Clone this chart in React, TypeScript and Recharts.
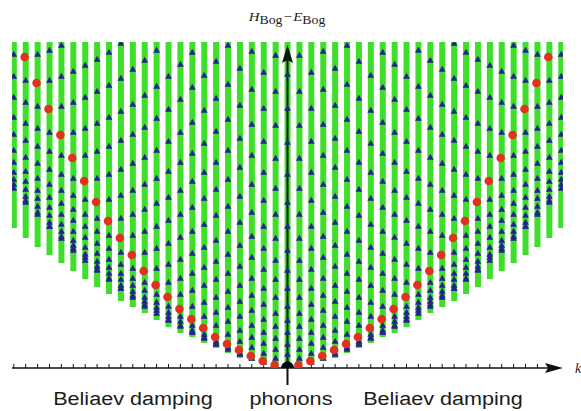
import { ComposedChart, Bar, Scatter, XAxis, YAxis, ReferenceLine, ReferenceDot } from "recharts";

// momentum index of each column, left to right
const momenta = [
    -23, -22, -21, -20, -19, -18, -17, -16, -15, -14, -13, -12, -11, -10, -9, -8, -7, -6, -5, -4, -3, -2, -1,
    0, 1, 2, 3, 4, 5, 6, 7, 8, 9, 10, 11, 12, 13, 14, 15, 16, 17, 18, 19, 20, 21, 22, 23,
];

// single excitation (red dots), |k| = 1..22
const dispersion = [3, 7, 12, 18, 24, 31, 40, 49, 59, 71, 83, 97, 113, 130, 147, 166, 187, 210, 233, 259, 285, 311];

// green continuum, lower end for |k| = 0..23, common top
const continuumFloor = [4, 5, 4, 7, 10, 15, 20, 25, 31, 35, 41, 48, 55, 61, 67, 74, 81, 89, 97, 105, 113, 121, 130, 140];
const continuumTop = 326;

// two-excitation levels (blue triangles), |k| = 0..23
const pairLevels = [
    [6, 14, 24, 36, 48, 62, 80, 98, 118, 142, 166, 194, 226, 260, 294],
    [10, 19, 30, 42, 55, 71, 89, 108, 130, 154, 180, 210, 243, 277, 313],
    [6, 15, 25, 36, 49, 64, 80, 99, 120, 142, 168, 196, 227, 260, 296],
    [10, 21, 31, 43, 58, 73, 90, 111, 132, 156, 184, 213, 244, 279, 317],
    [14, 15, 27, 38, 52, 67, 83, 102, 123, 146, 172, 201, 230, 263, 300],
    [19, 21, 34, 47, 61, 77, 95, 114, 137, 162, 189, 218, 249, 284, 323],
    [24, 25, 27, 43, 56, 71, 89, 107, 128, 153, 179, 206, 237, 270, 307],
    [30, 31, 34, 52, 66, 83, 101, 121, 144, 170, 196, 225, 258, 293],
    [36, 36, 38, 43, 62, 78, 95, 115, 137, 161, 187, 215, 246, 281, 316],
    [42, 43, 47, 52, 74, 90, 109, 131, 154, 178, 206, 236, 269, 304],
    [48, 49, 52, 56, 62, 86, 104, 125, 148, 171, 197, 227, 259, 292],
    [55, 58, 61, 66, 74, 100, 120, 142, 165, 190, 218, 250, 282, 318],
    [62, 64, 67, 71, 78, 86, 116, 137, 159, 184, 211, 241, 273, 308],
    [71, 73, 77, 83, 90, 100, 133, 154, 178, 205, 234, 264, 299],
    [80, 80, 83, 89, 95, 104, 116, 150, 173, 199, 228, 257, 290, 325],
    [89, 90, 95, 101, 109, 120, 133, 169, 194, 222, 251, 283, 316],
    [98, 99, 102, 107, 115, 125, 137, 150, 190, 217, 245, 277, 309],
    [108, 111, 114, 121, 131, 142, 154, 169, 213, 240, 271, 303],
    [118, 120, 123, 128, 137, 148, 159, 173, 190, 236, 266, 297],
    [130, 132, 137, 144, 154, 165, 178, 194, 213, 262, 292, 323],
    [142, 142, 146, 153, 161, 171, 184, 199, 217, 236, 288, 318],
    [154, 156, 162, 170, 178, 190, 205, 222, 240, 262, 314],
    [166, 168, 172, 179, 187, 197, 211, 228, 245, 266, 288],
    [180, 184, 189, 196, 206, 218, 234, 251, 271, 292, 314],
];

const tickMomenta = momenta.filter(n => n <= 21);

const barRows = momenta.map(n => ({ n, g: [continuumFloor[Math.abs(n)], continuumTop] }));
const pairRows = momenta.flatMap(n => pairLevels[Math.abs(n)].map(h => ({ n, h })));
const singleRows = momenta
    .filter(n => n !== 0 && Math.abs(n) <= dispersion.length)
    .map(n => ({ n, h: dispersion[Math.abs(n) - 1] }));
const originRow = [{ n: 0, h: 0 }];

const W = 581;
const H = 411;
const X_MIN = -23.15;
const X_MAX = 23.15;

const Triangle = (p: any) => {
    const { cx, cy } = p;
    if (cx == null || cy == null) return <g />;
    return <polygon points={`${cx - 3.4},${cy + 2.7} ${cx + 3.4},${cy + 2.7} ${cx},${cy - 3.3}`} fill="#24228f" />;
};

const RedDot = (p: any) => {
    const { cx, cy } = p;
    if (cx == null || cy == null) return <g />;
    return <circle cx={cx - 1} cy={cy} r={4.3} fill="#e2321f" />;
};

const OriginDot = (p: any) => {
    const { cx, cy } = p;
    if (cx == null || cy == null) return <g />;
    return <circle cx={cx} cy={cy} r={6.5} fill="#000" />;
};

const ArrowRight = (p: any) => {
    const { cx, cy } = p;
    return <polygon points={`${cx},${cy} ${cx - 18},${cy - 5} ${cx - 15},${cy} ${cx - 18},${cy + 5}`} fill="#111" />;
};

const ArrowUp = (p: any) => {
    const { cx, cy } = p;
    return <polygon points={`${cx},${cy} ${cx - 5.5},${cy + 18} ${cx},${cy + 15} ${cx + 5.5},${cy + 18}`} fill="#111" />;
};

const sansLabel = {
    position: "absolute" as const,
    top: 390,
    fontFamily: "'Liberation Sans', Arial, sans-serif",
    fontSize: 18,
    lineHeight: "18px",
    color: "#1b1b1b",
    whiteSpace: "nowrap" as const,
    transform: "translateX(-50%) scaleX(1.2)",
};

export default function App() {
    return (
        <div style={{ position: "absolute", left: 0, top: 0, width: W, height: H, overflow: "hidden", background: "#fff" }}>
            <ComposedChart width={W} height={H} data={barRows} margin={{ top: 42, right: 18, bottom: 43, left: 12 }}>
                <XAxis dataKey="n" type="number" domain={[X_MIN, X_MAX]} allowDataOverflow hide />
                <YAxis type="number" domain={[0, continuumTop]} allowDataOverflow hide />
                <Bar dataKey="g" fill="#3ede2a" barSize={6} isAnimationActive={false} />
                {/* x axis with small upward ticks */}
                <ReferenceLine segment={[{ x: X_MIN, y: 0 }, { x: 22, y: 0 }]} stroke="#111" strokeWidth={1.3} ifOverflow="visible" />
                {tickMomenta.map(n => (
                    <ReferenceLine key={n} segment={[{ x: n, y: 0 }, { x: n, y: 4 }]} stroke="#111" strokeWidth={1} ifOverflow="visible" />
                ))}
                <ReferenceLine segment={[{ x: 0, y: -17 }, { x: 0, y: 308 }]} stroke="#111" strokeWidth={2} ifOverflow="visible" />
                <Scatter data={pairRows} dataKey="h" shape={Triangle} isAnimationActive={false} />
                <Scatter data={singleRows} dataKey="h" shape={RedDot} isAnimationActive={false} />
                <Scatter data={originRow} dataKey="h" shape={OriginDot} isAnimationActive={false} />
                <ReferenceDot x={X_MAX} y={0} ifOverflow="visible" shape={ArrowRight} />
                <ReferenceDot x={0} y={323} ifOverflow="visible" shape={ArrowUp} />
            </ComposedChart>

            <div style={{
                position: "absolute", left: 287, top: 10, fontFamily: "'Liberation Serif', 'Times New Roman', serif",
                fontSize: 13, lineHeight: "13px", color: "#222", whiteSpace: "nowrap",
                transform: "translateX(-50%) scaleX(1.15)",
            }}>
                <i>H</i><span style={{ fontSize: 12, position: "relative", top: 3 }}>Bog</span>
                <span style={{ margin: "0 1px" }}>−</span>
                <i>E</i><span style={{ fontSize: 12, position: "relative", top: 3 }}>Bog</span>
            </div>

            <div style={{
                position: "absolute", left: 575, top: 362, fontFamily: "'Liberation Serif', serif",
                fontStyle: "italic", fontSize: 14, lineHeight: "14px", color: "#222",
            }}>k</div>

            <div style={{ ...sansLabel, left: 133 }}>Beliaev damping</div>
            <div style={{ ...sansLabel, left: 291 }}>phonons</div>
            <div style={{ ...sansLabel, left: 443 }}>Beliaev damping</div>
        </div>
    );
}
